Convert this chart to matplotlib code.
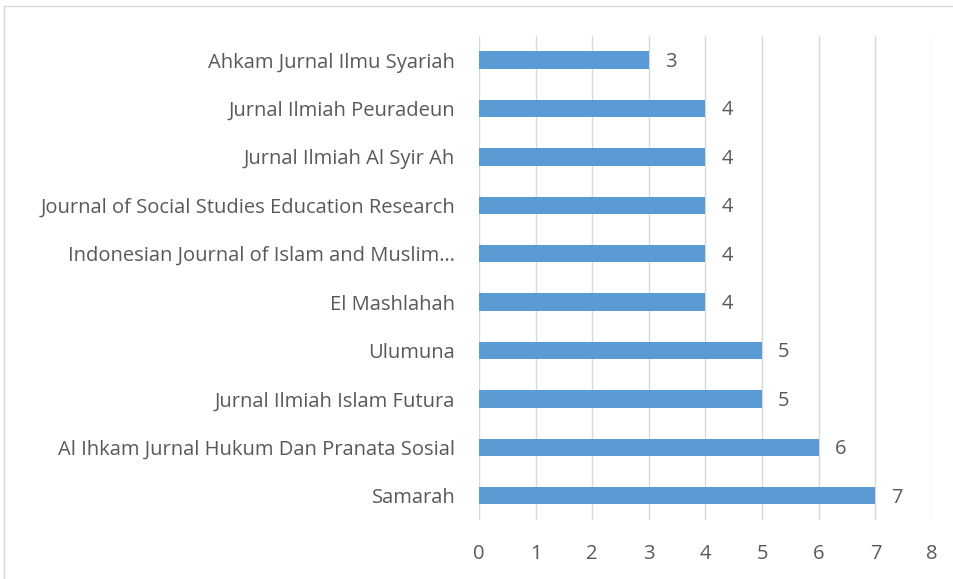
import matplotlib.pyplot as plt
from matplotlib.patches import Rectangle

plt.rcParams['font.family'] = ['Open Sans', 'DejaVu Sans']

journals = ['Samarah',
            'Al Ihkam Jurnal Hukum Dan Pranata Sosial',
            'Jurnal Ilmiah Islam Futura',
            'Ulumuna',
            'El Mashlahah',
            'Indonesian Journal of Islam and Muslim…',
            'Journal of Social Studies Education Research',
            'Jurnal Ilmiah Al Syir Ah',
            'Jurnal Ilmiah Peuradeun',
            'Ahkam Jurnal Ilmu Syariah']
counts = [7, 6, 5, 5, 4, 4, 4, 4, 4, 3]
xticks = [0, 1, 2, 3, 4, 5, 6, 7, 8]

text_col = '#595959'
fig = plt.figure(figsize=(9.54, 5.79), dpi=100)
ax = fig.add_axes([0.502, 0.102, 0.475, 0.836])

fig.patches.append(Rectangle((0.004, -0.01), 1.1, 0.999, transform=fig.transFigure,
                             fill=False, edgecolor='#d9d9d9', linewidth=1))

pos = range(len(journals))
ax.barh(pos, counts, height=0.36, color='#5b9bd5', zorder=3)
for i, v in zip(pos, counts):
    ax.text(v + 0.28, i - 0.04, str(v), va='center', ha='left', fontsize=14.5, color=text_col)

ax.set_xlim(0, 8)
ax.set_ylim(-0.5, len(journals) - 0.5)
ax.set_xticks(xticks)
ax.set_xticklabels([str(t) for t in xticks])
ax.set_yticks(list(pos))
ax.set_yticklabels(journals)
ax.tick_params(axis='both', length=0, labelsize=14.5, colors=text_col)
ax.tick_params(axis='y', pad=17)
ax.tick_params(axis='x', pad=17)
ax.grid(axis='x', color='#d9d9d9', linewidth=1, zorder=0)
for s in ax.spines.values():
    s.set_visible(False)

plt.savefig('out.png', dpi=100)
